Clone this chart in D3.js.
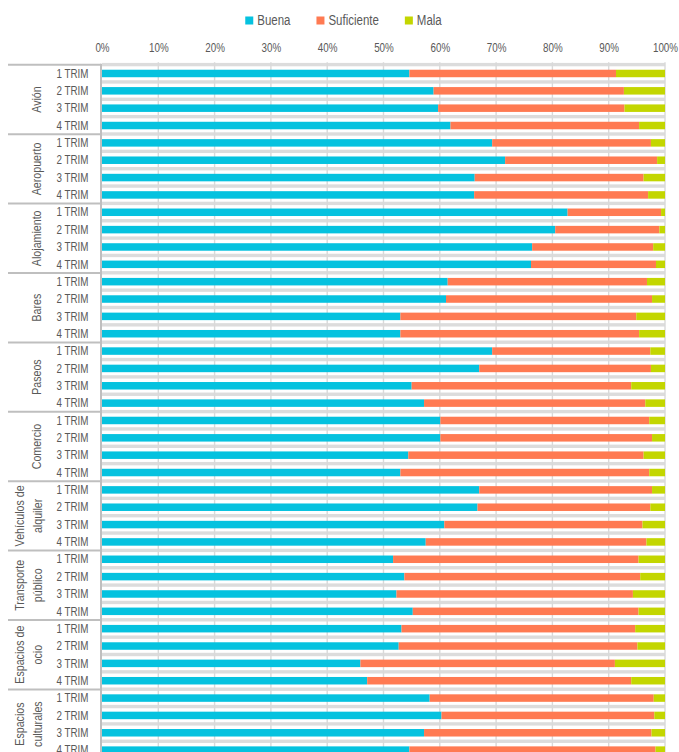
<!DOCTYPE html>
<html>
<head>
<meta charset="utf-8">
<script src="https://cdn.jsdelivr.net/npm/d3@7"></script>
<style>
  html, body { margin: 0; padding: 0; background: #fff; overflow: hidden; }
  svg { display: block; }
  text { font-family: "Liberation Sans", Arial, sans-serif; fill: #595959; }
</style>
</head>
<body>
<svg id="chart" width="679" height="752"></svg>
<script>
const groupLabels = [
  ["Avión"], ["Aeropuerto"], ["Alojamiento"], ["Bares"], ["Paseos"], ["Comercio"],
  ["Vehículos de", "alquiler"], ["Transporte", "público"], ["Espacios de", "ocio"], ["Espacios", "culturales"]
];
const quarters = ["1 TRIM", "2 TRIM", "3 TRIM", "4 TRIM"];
const seriesNames = ["Buena", "Suficiente", "Mala"];
const seriesColors = ["#05c2df", "#ff7a52", "#c3d600"];
const tickValues = [0, 10, 20, 30, 40, 50, 60, 70, 80, 90, 100];

const buena = [
  54.6, 58.9, 59.7, 61.9,
  69.3, 71.6, 66.2, 66.1,
  82.7, 80.5, 76.4, 76.2,
  61.4, 61.1, 53.0, 53.0,
  69.3, 67.0, 55.0, 57.2,
  60.1, 60.1, 54.4, 53.0,
  67.0, 66.7, 60.8, 57.5,
  51.7, 53.7, 52.3, 55.2,
  53.2, 52.7, 45.9, 47.1,
  58.2, 60.3, 57.2, 54.6
];
const suficiente = [
  36.7, 33.8, 33.1, 33.5,
  28.2, 27.0, 30.0, 30.9,
  16.6, 18.5, 21.5, 22.2,
  35.4, 36.6, 41.9, 42.4,
  28.1, 30.5, 39.0, 39.3,
  37.1, 37.6, 41.8, 44.2,
  30.7, 30.7, 35.2, 39.2,
  43.6, 41.9, 42.0, 40.1,
  41.5, 42.4, 45.2, 46.9,
  39.8, 37.8, 40.4, 43.7
];
const mala = [
  8.7, 7.3, 7.2, 4.6,
  2.5, 1.4, 3.8, 3.0,
  0.7, 1.0, 2.1, 1.6,
  3.2, 2.3, 5.1, 4.6,
  2.6, 2.5, 6.0, 3.5,
  2.8, 2.3, 3.8, 2.8,
  2.3, 2.6, 4.0, 3.3,
  4.7, 4.4, 5.7, 4.7,
  5.3, 4.9, 8.9, 6.0,
  2.0, 1.9, 2.4, 1.7
];

// Build table
const rows = [];
groupLabels.forEach((g, gi) => {
  quarters.forEach((q, qi) => {
    const i = gi * 4 + qi;
    rows.push({ id: i, group: gi, quarter: q, Buena: buena[i], Suficiente: suficiente[i], Mala: mala[i] });
  });
});

const NARROW = 0.82; // emulate a narrow sans face

const svg = d3.select("#chart");
const topY = 64.8, step = 17.35;
const x = d3.scaleLinear().domain([0, 100]).range([102, 665]);
const y = d3.scaleBand().domain(rows.map(d => d.id)).range([topY, topY + rows.length * step]).paddingInner(0).paddingOuter(0);
const color = d3.scaleOrdinal().domain(seriesNames).range(seriesColors);
const barH = 7.5;

// Stripes at row boundaries
const boundaries = d3.range(rows.length + 1).map(i => topY + i * y.step());
svg.append("g").selectAll("rect").data(boundaries).join("rect")
  .attr("x", x(0)).attr("width", x(100) - x(0))
  .attr("y", d => d - 1.9).attr("height", 3.4)
  .attr("fill", "#dcdcdc");

// Vertical gridlines
svg.append("g").selectAll("line").data(tickValues.slice(1)).join("line")
  .attr("x1", d => x(d)).attr("x2", d => x(d))
  .attr("y1", topY - 2.5).attr("y2", 760)
  .attr("stroke", "#d9d9d9").attr("stroke-width", 1.4);

// Bars
const stack = d3.stack().keys(seriesNames);
const stacked = stack(rows);
svg.append("g").selectAll("g").data(stacked).join("g")
  .attr("fill", d => color(d.key))
  .selectAll("rect").data(d => d).join("rect")
  .attr("x", d => x(d[0]))
  .attr("width", d => x(d[1]) - x(d[0]))
  .attr("y", d => y(d.data.id) + y.bandwidth() / 2 - barH / 2)
  .attr("height", barH);

// Top axis tick labels
const axis = d3.axisTop(x).tickValues(tickValues).tickFormat(d => d + "%").tickSize(0).tickPadding(0);
const ag = svg.append("g").attr("transform", "translate(0,51.5)").call(axis);
ag.attr("font-family", null).attr("font-size", null);
ag.select(".domain").remove();
ag.selectAll("text").attr("font-size", 12).attr("fill", "#595959").attr("dy", 0)
  .attr("transform", `scale(${NARROW},1)`);

// Axis line (left) and group separators
svg.append("line")
  .attr("x1", x(0) - 1).attr("x2", x(0) - 1)
  .attr("y1", topY - 1).attr("y2", 760)
  .attr("stroke", "#bfbfbf").attr("stroke-width", 2);
const groupBounds = d3.range(groupLabels.length + 1).map(i => topY + i * 4 * y.step());
svg.append("g").selectAll("line").data(groupBounds).join("line")
  .attr("x1", 8).attr("x2", x(0) - 1)
  .attr("y1", d => d).attr("y2", d => d)
  .attr("stroke", "#bfbfbf").attr("stroke-width", 2);

// Row labels
svg.append("g").selectAll("text").data(rows).join("text")
  .attr("transform", d => `translate(88.5,${y(d.id) + y.bandwidth() / 2}) scale(${NARROW},1)`)
  .attr("dy", "0.35em")
  .attr("text-anchor", "end")
  .attr("font-size", 12)
  .text(d => d.quarter);

// Group labels
const gl = svg.append("g").selectAll("g").data(groupLabels).join("g")
  .attr("transform", (d, i) => {
    const yc = topY + (i * 4 + 2) * y.step();
    return `translate(0,${yc})`;
  });
gl.each(function(lines) {
  const g = d3.select(this);
  const xs = lines.length === 1 ? [36.5] : [19, 37];
  lines.forEach((line, li) => {
    g.append("text")
      .attr("transform", `translate(${xs[li]},0) rotate(-90) scale(${NARROW},1)`)
      .attr("text-anchor", "middle")
      .attr("dy", "0.35em")
      .attr("font-size", 13)
      .text(line);
  });
});

// Legend
const legend = svg.append("g");
const items = legend.selectAll("g").data(seriesNames).join("g");
items.append("rect").attr("width", 8).attr("height", 8).attr("y", 16.5).attr("fill", d => color(d));
items.append("text").attr("transform", `translate(12,25) scale(${NARROW},1)`).attr("font-size", 14).text(d => d);
const widths = [];
items.each(function() {
  const w = 12 + NARROW * d3.select(this).select("text").node().getComputedTextLength();
  widths.push(w);
});
const gap = 26;
const totalW = d3.sum(widths) + gap * (widths.length - 1);
let startX = 343.5 - totalW / 2;
items.attr("transform", (d, i) => {
  const tx = startX;
  startX += widths[i] + gap;
  return `translate(${tx},0)`;
});
</script>
</body>
</html>
